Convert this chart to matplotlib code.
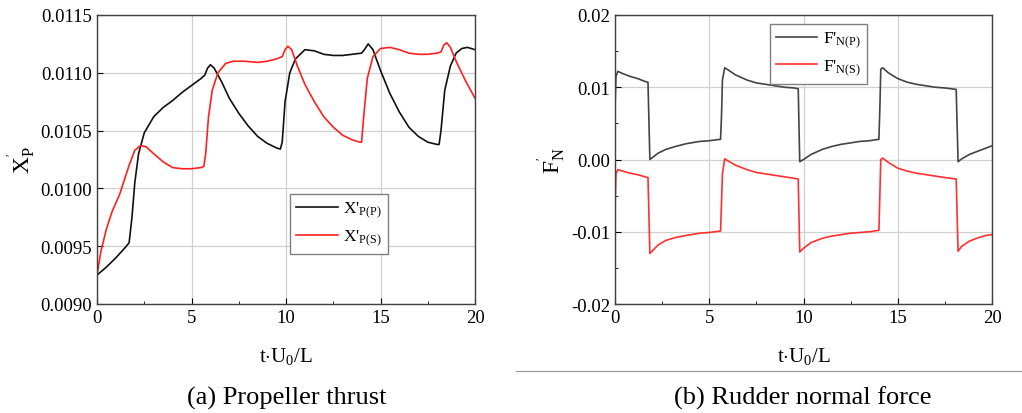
import matplotlib.pyplot as plt
from matplotlib.ticker import MultipleLocator

plt.rcParams['font.family'] = ['Liberation Serif', 'DejaVu Serif']
plt.rcParams['mathtext.fontset'] = 'custom'
plt.rcParams['mathtext.rm'] = 'Liberation Serif'
plt.rcParams['mathtext.it'] = 'Liberation Serif'

# (a) propeller thrust
t_pp = [0, 0.5, 1.0, 1.5, 1.7, 1.85, 2.0, 2.2, 2.5, 3.0, 3.5, 4.0, 4.5, 5.0, 5.5, 5.7, 5.85, 6.0, 6.2, 6.6, 7.0,
        7.5, 8.0, 8.5, 9.0, 9.5, 9.7, 9.8, 9.95, 10.2, 10.5, 11.0, 11.5, 12.0, 12.5, 13.0, 13.5, 14.0, 14.15,
        14.35, 14.6, 15.0, 15.5, 16.0, 16.5, 17.0, 17.5, 18.0, 18.1, 18.2, 18.4, 18.7, 19.0, 19.3, 19.6, 20.0]
x_pp = [0.00925, 0.00932, 0.00940, 0.00949, 0.00953, 0.00975, 0.01005, 0.01030, 0.01048, 0.01062, 0.01070,
        0.01076, 0.01083, 0.01089, 0.01095, 0.01098, 0.01104, 0.01107, 0.01104, 0.01092, 0.01078, 0.01065,
        0.01054, 0.01045, 0.01039, 0.01035, 0.01034, 0.01040, 0.01075, 0.01100, 0.01112, 0.01120, 0.01119,
        0.01116, 0.01115, 0.01115, 0.01116, 0.01117, 0.01120, 0.01125, 0.01120, 0.01102, 0.01082, 0.01066,
        0.01053, 0.01045, 0.01040, 0.01038, 0.01038, 0.01050, 0.01085, 0.01106, 0.01117, 0.01121, 0.01122,
        0.01120]
t_ps = [0, 0.2, 0.5, 0.8, 1.2, 1.7, 2.0, 2.3, 2.6, 3.0, 3.5, 4.0, 4.5, 5.0, 5.5, 5.65, 5.75, 5.9, 6.1, 6.4,
        6.8, 7.2, 7.8, 8.5, 9.0, 9.5, 9.8, 9.95, 10.1, 10.3, 10.6, 11.0, 11.5, 12.0, 12.5, 13.0, 13.5, 13.9,
        14.0, 14.1, 14.3, 14.6, 15.0, 15.5, 16.0, 16.5, 17.0, 17.5, 18.0, 18.2, 18.35, 18.5, 18.7, 19.0, 19.5,
        20.0]
x_ps = [0.00925, 0.00945, 0.00965, 0.00980, 0.00995, 0.01020, 0.01033, 0.01037, 0.01036, 0.01030, 0.01023,
        0.01018, 0.01017, 0.01017, 0.01018, 0.01019, 0.01030, 0.01062, 0.01085, 0.01100, 0.01108, 0.01110,
        0.01110, 0.01109, 0.01110, 0.01112, 0.01114, 0.01120, 0.01123, 0.01120, 0.01106, 0.01090, 0.01075,
        0.01062, 0.01053, 0.01046, 0.01042, 0.01040, 0.01040, 0.01060, 0.01095, 0.01114, 0.01121, 0.01122,
        0.01120, 0.01117, 0.01116, 0.01116, 0.01117, 0.01118, 0.01124, 0.01126, 0.01122, 0.01110, 0.01093,
        0.01078]

# (b) rudder normal force
t_np = [0, 0.05, 0.15, 0.4, 0.8, 1.2, 1.6, 1.75, 1.85, 2.0, 2.3, 2.7, 3.2, 3.8, 4.5, 5.0, 5.6, 5.65, 5.7,
        5.82, 6.0, 6.4, 7.0, 7.5, 8.0, 8.5, 9.0, 9.5, 9.72, 9.8, 10.0, 10.4, 11.0, 11.5, 12.0, 12.5, 13.0,
        13.5, 14.0, 14.05, 14.1, 14.2, 14.5, 15.0, 15.5, 16.0, 16.5, 17.0, 17.5, 18.1, 18.2, 18.4, 18.8,
        19.3, 19.7, 20.0]
f_np = [0.0070, 0.0115, 0.0122, 0.0119, 0.0115, 0.0112, 0.0108, 0.0107, 0.0000, 0.0003, 0.0009, 0.0014,
        0.0018, 0.0022, 0.0025, 0.0026, 0.0028, 0.0060, 0.0110, 0.0127, 0.0124, 0.0117, 0.0110, 0.0106,
        0.0104, 0.0102, 0.0100, 0.0099, 0.0098, -0.0003, 0.0000, 0.0007, 0.0014, 0.0018, 0.0021, 0.0023,
        0.0025, 0.0026, 0.0028, 0.0070, 0.0125, 0.0127, 0.0120, 0.0112, 0.0107, 0.0104, 0.0102, 0.0100,
        0.0099, 0.0097, -0.0003, 0.0001, 0.0007, 0.0012, 0.0016, 0.0019]
t_ns = [0, 0.05, 0.15, 0.4, 0.8, 1.2, 1.6, 1.75, 1.85, 2.0, 2.3, 2.7, 3.2, 3.8, 4.5, 5.0, 5.6, 5.65, 5.7,
        5.82, 6.0, 6.4, 7.0, 7.5, 8.0, 8.5, 9.0, 9.5, 9.72, 9.8, 10.0, 10.4, 11.0, 11.5, 12.0, 12.5, 13.0,
        13.5, 14.0, 14.05, 14.1, 14.2, 14.5, 15.0, 15.5, 16.0, 16.5, 17.0, 17.5, 18.1, 18.2, 18.4, 18.8,
        19.3, 19.7, 20.0]
f_ns = [-0.0070, -0.0020, -0.0014, -0.0016, -0.0019, -0.0021, -0.0024, -0.0025, -0.0130, -0.0126, -0.0118,
        -0.0112, -0.0108, -0.0105, -0.0102, -0.0101, -0.0099, -0.0060, -0.0020, 0.0001, -0.0002, -0.0008,
        -0.0014, -0.0018, -0.0020, -0.0022, -0.0024, -0.0026, -0.0027, -0.0128, -0.0123, -0.0115, -0.0109,
        -0.0106, -0.0104, -0.0102, -0.0101, -0.0100, -0.0098, -0.0050, 0.0000, 0.0002, -0.0004, -0.0012,
        -0.0016, -0.0019, -0.0021, -0.0023, -0.0025, -0.0027, -0.0127, -0.0120, -0.0113, -0.0108, -0.0105,
        -0.0104]


def _style(ax, ylim, ymajor, yminor, yfmt):
    ax.set_xlim(0, 20)
    ax.set_ylim(*ylim)
    ax.xaxis.set_major_locator(MultipleLocator(5))
    ax.xaxis.set_minor_locator(MultipleLocator(2.5))
    ax.yaxis.set_major_locator(MultipleLocator(ymajor))
    if yminor:
        ax.yaxis.set_minor_locator(MultipleLocator(yminor))
    ax.yaxis.set_major_formatter(plt.FormatStrFormatter(yfmt))
    ax.grid(True, which='major', color='#d0d0d0', lw=0.9)
    ax.tick_params(which='both', direction='in', labelsize=13.5, top=False, right=False)
    ax.tick_params(which='major', length=4)
    ax.tick_params(which='minor', length=2.5)
    for s in ax.spines.values():
        s.set_color('#404040')
        s.set_linewidth(1.0)
    ax.set_xlabel(r't$\cdot$U$_\mathregular{0}$/L', fontsize=15, labelpad=14)


def _legend(ax, anchor):
    leg = ax.legend(loc='upper left', bbox_to_anchor=anchor, fontsize=12.5, frameon=True, fancybox=False,
                    edgecolor='#808080', framealpha=1, handlelength=2.4, handletextpad=0.3,
                    borderpad=0.35, labelspacing=0.45, borderaxespad=0)
    leg.get_frame().set_linewidth(1.0)


fig = plt.figure(figsize=(10.22, 4.14), dpi=100)
ax1 = fig.add_axes([97 / 1022, 1 - 305 / 414, 378 / 1022, 289 / 414])
ax2 = fig.add_axes([615 / 1022, 1 - 305 / 414, 377 / 1022, 289 / 414])

ax1.plot(t_pp, x_pp, color='#111111', lw=1.2, label=r"X'$_\mathregular{P(P)}$")
ax1.plot(t_ps, x_ps, color='#ff2020', lw=1.2, label=r"X'$_\mathregular{P(S)}$")
_style(ax1, (0.009, 0.0115), 0.0005, None, '%.4f')
ax1.set_ylabel(r"X$^\mathregular{'}_\mathregular{P}$", fontsize=17, labelpad=2)
_legend(ax1, (0.51, 0.38))

ax2.plot(t_np, f_np, color='#444444', lw=1.2, label=r"F'$_\mathregular{N(P)}$")
ax2.plot(t_ns, f_ns, color='#ff3030', lw=1.2, label=r"F'$_\mathregular{N(S)}$")
_style(ax2, (-0.02, 0.02), 0.01, 0.005, '%.2f')
ax2.set_ylabel(r"F$^\mathregular{'}_\mathregular{N}$", fontsize=17, labelpad=2)
_legend(ax2, (0.41, 0.97))

fig.add_artist(plt.Line2D([516 / 1022, 1.0], [1 - 372 / 414] * 2, color='#999999', lw=0.9))
fig.text(287 / 1022, 1 - 398 / 414, '(a) Propeller thrust', ha='center', va='center', fontsize=19)
fig.text(803 / 1022, 1 - 398 / 414, '(b) Rudder normal force', ha='center', va='center', fontsize=19)

plt.savefig('out.png', dpi=100)
